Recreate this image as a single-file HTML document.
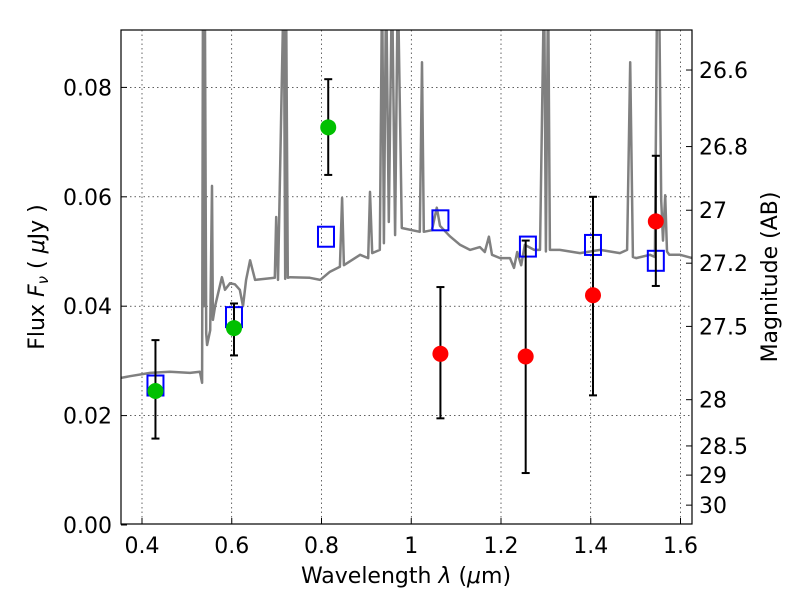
<!DOCTYPE html>
<html><head><meta charset="utf-8"><style>
body{margin:0;background:#fff;}
svg text{font-family:"DejaVu Sans","Liberation Sans",sans-serif;font-size:22px;fill:#000;}
</style></head><body>
<svg id="chart" width="800" height="600" xmlns="http://www.w3.org/2000/svg">
<defs><clipPath id="clip"><rect x="121" y="30" width="571" height="494"/></clipPath></defs>
<g id="grid"></g>
<g id="spec" clip-path="url(#clip)"></g>
<g id="marks" clip-path="url(#clip)"></g>
<rect x="121" y="30" width="571" height="494" fill="none" stroke="#000" stroke-width="1.2"/>
<g id="axes"></g>
<text x="406" y="583" text-anchor="middle">Wavelength  <tspan font-style="italic">λ</tspan> (<tspan font-style="italic">μ</tspan>m)</text>
<text transform="translate(44,277) rotate(-90)" text-anchor="middle">Flux  <tspan font-style="italic">F<tspan font-size="15" dy="4">ν</tspan></tspan><tspan dy="-4">  ( </tspan><tspan font-style="italic">μ</tspan>Jy )</text>
<text transform="translate(777,277) rotate(-90)" text-anchor="middle">Magnitude (AB)</text>
</svg>
<script>
const xTicks=[0.4,0.6,0.8,1.0,1.2,1.4,1.6];
const xTickLabels=["0.4","0.6","0.8","1","1.2","1.4","1.6"];
const yTicks=[0,0.02,0.04,0.06,0.08];
const yTickLabels=["0.00","0.02","0.04","0.06","0.08"];
const magTicks=[26.6,26.8,27,27.2,27.5,28,28.5,29,30];
const magTickLabels=["26.6","26.8","27","27.2","27.5","28","28.5","29","30"];
const specWl=[0.353,0.373,0.418,0.462,0.507,0.529,0.534,0.536,0.538,0.540,0.543,0.545,0.552,0.556,0.558,0.563,0.578,0.585,0.596,0.607,0.618,0.625,0.632,0.641,0.652,0.696,0.699,0.703,0.716,0.719,0.721,0.725,0.730,0.774,0.797,0.819,0.841,0.846,0.850,0.886,0.904,0.908,0.913,0.930,0.935,0.939,0.944,0.950,0.957,0.964,0.970,0.979,1.019,1.024,1.028,1.046,1.057,1.064,1.086,1.109,1.131,1.153,1.164,1.173,1.180,1.198,1.220,1.229,1.236,1.245,1.253,1.274,1.287,1.296,1.300,1.305,1.309,1.314,1.331,1.376,1.421,1.465,1.481,1.488,1.494,1.501,1.532,1.543,1.548,1.552,1.557,1.561,1.566,1.570,1.575,1.599,1.626];
const specFlux=[0.0269,0.0272,0.0278,0.0280,0.0278,0.0280,0.0260,0.1,0.04,0.1,0.035,0.0329,0.0356,0.062,0.0375,0.040,0.0453,0.043,0.0442,0.044,0.043,0.040,0.0448,0.0484,0.0448,0.0452,0.0563,0.0448,0.1,0.045,0.1,0.0452,0.0453,0.0452,0.0448,0.0463,0.0472,0.0598,0.0475,0.0494,0.0488,0.0609,0.0497,0.0503,0.1,0.0515,0.1,0.0554,0.1,0.053,0.1,0.0543,0.0536,0.0846,0.0536,0.0539,0.058,0.0547,0.0528,0.0512,0.0503,0.0508,0.0499,0.0527,0.0494,0.0488,0.0488,0.047,0.0499,0.0475,0.0512,0.0503,0.0503,0.1,0.05,0.1,0.0503,0.0503,0.0503,0.0497,0.0503,0.0497,0.0503,0.0846,0.0490,0.0488,0.0494,0.0490,0.1,0.1,0.0594,0.052,0.0603,0.050,0.0494,0.0494,0.0488];
const greenWl=[0.43,0.605,0.815];
const greenFlux=[0.0245,0.036,0.0727];
const greenLo=[0.0158,0.031,0.064];
const greenHi=[0.0338,0.0405,0.0815];
const redWl=[1.065,1.255,1.405,1.545];
const redFlux=[0.0313,0.0308,0.042,0.0555];
const redLo=[0.0195,0.0095,0.0237,0.0437];
const redHi=[0.0435,0.052,0.060,0.0675];
const modelWl=[0.43,0.605,0.81,1.065,1.26,1.405,1.545];
const modelFlux=[0.0255,0.038,0.0527,0.0557,0.0509,0.0512,0.0483];

const NS="http://www.w3.org/2000/svg";
const X=v=>142+(v-0.4)*448.75;
const Y=v=>525-v*5470;
function mk(tag,attrs,parent){const e=document.createElementNS(NS,tag);for(const k in attrs)e.setAttribute(k,attrs[k]);parent.appendChild(e);return e;}
const grid=document.getElementById('grid'),axes=document.getElementById('axes'),spec=document.getElementById('spec'),marks=document.getElementById('marks');
xTicks.forEach((t,i)=>{const x=X(t);
 let g=mk('line',{x1:x,x2:x,y1:30,y2:524,stroke:'#000','stroke-width':0.6,'stroke-dasharray':'1.5,3'},grid);
 
 let tk=mk('line',{x1:x,x2:x,y1:524,y2:518,stroke:'#000'},axes);
 
 let tt=mk('text',{x:x,y:553,'text-anchor':'middle'},axes);tt.textContent=xTickLabels[i];
 });
yTicks.forEach((t,i)=>{const y=Y(t);
 if(t>0){let g=mk('line',{x1:121,x2:692,y1:y,y2:y,stroke:'#000','stroke-width':0.6,'stroke-dasharray':'1.5,3'},grid);
 }
 let tk=mk('line',{x1:121,x2:127,y1:y,y2:y,stroke:'#000'},axes);
 
 let tt=mk('text',{x:112,y:y+8,'text-anchor':'end'},axes);tt.textContent=yTickLabels[i];
 });
magTicks.forEach((m,i)=>{const y=Y(Math.pow(10,(23.9-m)/2.5));
 let tk=mk('line',{x1:686,x2:692,y1:y,y2:y,stroke:'#000'},axes);
 
 let tt=mk('text',{x:699,y:y+8,'text-anchor':'start'},axes);tt.textContent=magTickLabels[i];
 });
const pts=specWl.map((w,i)=>X(w).toFixed(1)+','+Y(specFlux[i]).toFixed(1)).join(' ');
const pl=mk('polyline',{points:pts,fill:'none',stroke:'#808080','stroke-width':2.5,'stroke-linejoin':'round'},spec);

function err(w,lo,hi){const x=X(w);
 let l=mk('line',{x1:x,x2:x,y1:Y(lo),y2:Y(hi),stroke:'#000','stroke-width':2},marks);
 
 [lo,hi].forEach(v=>{let c=mk('line',{x1:x-4,x2:x+4,y1:Y(v),y2:Y(v),stroke:'#000','stroke-width':2},marks);
 });}
modelWl.forEach((w,i)=>{let r=mk('rect',{x:X(w)-8,y:Y(modelFlux[i])-10,width:16,height:20,fill:'none',stroke:'#0000ff','stroke-width':2},marks);
 });
greenWl.forEach((w,i)=>{err(w,greenLo[i],greenHi[i]);
 let c=mk('circle',{cx:X(w),cy:Y(greenFlux[i]),r:8,fill:'#00c000'},marks);
 });
redWl.forEach((w,i)=>{err(w,redLo[i],redHi[i]);
 let c=mk('circle',{cx:X(w),cy:Y(redFlux[i]),r:8,fill:'#ff0000'},marks);
 });
</script>
</body></html>
